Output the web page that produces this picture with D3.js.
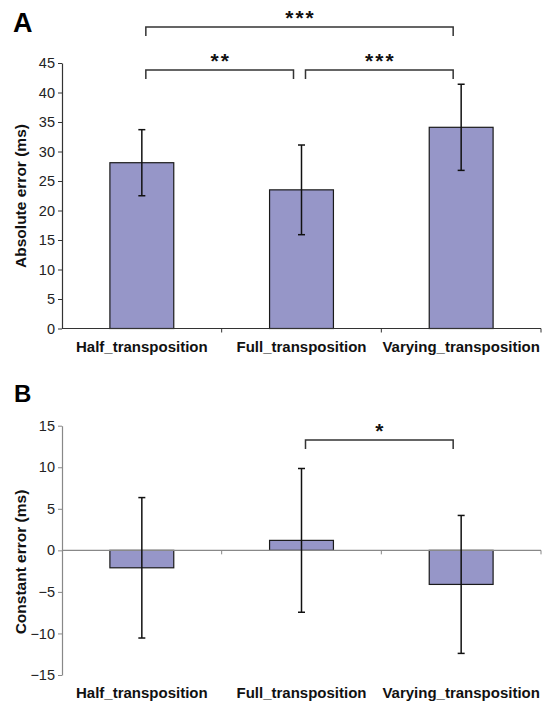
<!DOCTYPE html>
<html>
<head>
<meta charset="utf-8">
<script src="https://cdn.jsdelivr.net/npm/d3@7"></script>
<style>
  html, body { margin: 0; padding: 0; background: #fff; }
  svg text { font-family: "Liberation Sans", Arial, sans-serif; }
</style>
</head>
<body>
<svg id="chart" width="542" height="704"></svg>
<script>
// ---- data ----
const categories = ["Half_transposition", "Full_transposition", "Varying_transposition"];
const absMeans = [28.1, 23.5, 34.1];
const absErr   = [5.6, 7.6, 7.3];
const absTicks = [0, 5, 10, 15, 20, 25, 30, 35, 40, 45];
const conMeans = [-2.1, 1.2, -4.1];
const conErr   = [8.45, 8.65, 8.3];
const conTicks = [-15, -10, -5, 0, 5, 10, 15];
const absSig = [ {a: 0, b: 2, label: "***", level: 0}, {a: 0, b: 1, label: "**", level: 1}, {a: 1, b: 2, label: "***", level: 1} ];
const conSig = [ {a: 1, b: 2, label: "*", level: 0} ];

const svg = d3.select("#chart");
const barFill = "#9696C8";

const x = d3.scaleBand().domain(categories).range([62, 541]).paddingInner(0.6).paddingOuter(0.3);
const cx = c => x(c) + x.bandwidth() / 2;

function panel(opts) {
  const g = svg.append("g");
  const y = opts.y;
  // y axis
  const yAxis = d3.axisLeft(y).tickValues(opts.ticks).tickSize(4).tickSizeOuter(0).tickPadding(3);
  const ga = g.append("g").attr("transform", `translate(${x.range()[0]},0)`).call(yAxis);
  ga.select(".domain").attr("stroke", opts.axisColor).attr("stroke-width", 1.2);
  ga.selectAll(".tick line").attr("stroke", opts.axisColor);
  ga.selectAll(".tick text").attr("font-size", 14.5).attr("fill", "#222")
    .attr("font-family", "Liberation Sans, Arial, sans-serif");

  // bars
  g.selectAll("rect.bar").data(categories).join("rect")
    .attr("x", c => x(c))
    .attr("width", x.bandwidth())
    .attr("y", (c, i) => y(Math.max(0, opts.means[i])))
    .attr("height", (c, i) => Math.abs(y(opts.means[i]) - y(0)))
    .attr("fill", barFill).attr("stroke", "#1a1a1a").attr("stroke-width", 1.2);

  // x axis (baseline at 0)
  const y0 = y(0);
  g.append("line").attr("x1", x.range()[0]).attr("x2", x.range()[1])
    .attr("y1", y0).attr("y2", y0).attr("stroke", opts.axisColor).attr("stroke-width", 1.2);
  for (let k = 1; k <= categories.length; k++) {
    const xx = x.range()[0] + k * x.step();
    g.append("line").attr("x1", xx).attr("x2", xx).attr("y1", y0).attr("y2", y0 + 4)
      .attr("stroke", opts.axisColor);
  }

  // error bars
  categories.forEach((c, i) => {
    const m = opts.means[i], e = opts.errs[i];
    const xc = cx(c);
    g.append("line").attr("x1", xc).attr("x2", xc).attr("y1", y(m + e)).attr("y2", y(m - e))
      .attr("stroke", "#111").attr("stroke-width", 1.5);
    [m + e, m - e].forEach(v => {
      g.append("line").attr("x1", xc - 3.5).attr("x2", xc + 3.5).attr("y1", y(v)).attr("y2", y(v))
        .attr("stroke", "#111").attr("stroke-width", 1.5);
    });
  });

  // category labels
  g.selectAll("text.cat").data(categories).join("text")
    .attr("x", c => cx(c)).attr("y", opts.labelY)
    .attr("text-anchor", "middle").attr("font-size", 15).attr("font-weight", "bold")
    .attr("fill", "#111").text(c => c);

  // y title
  g.append("text").attr("transform", `translate(26,${opts.titleY}) rotate(-90)`)
    .attr("text-anchor", "middle").attr("font-size", 15.5).attr("font-weight", "bold")
    .attr("fill", "#111").text(opts.title);

  // panel letter
  g.append("text").attr("x", opts.letterX).attr("y", opts.letterY)
    .attr("font-size", opts.letterSize).attr("font-weight", "bold").attr("fill", "#000").text(opts.letter);

  // significance brackets
  opts.sig.forEach(s => {
    const x1 = cx(categories[s.a]) + 4;
    const x2 = cx(categories[s.b]) - 8;
    const by = opts.bracketY[s.level];
    g.append("path").attr("d", `M${x1},${by + 9}V${by}H${x2}V${by + 9}`)
      .attr("fill", "none").attr("stroke", "#333").attr("stroke-width", 1.5);
    g.append("text").attr("x", (x1 + x2) / 2 + 1).attr("y", by - 2)
      .attr("text-anchor", "middle").attr("font-size", 21).attr("font-weight", "bold")
      .attr("letter-spacing", 2).attr("fill", "#111").text(s.label);
  });
}

panel({
  y: d3.scaleLinear().domain([0, 45]).range([328.5, 63]),
  ticks: absTicks, means: absMeans, errs: absErr, axisColor: "#333",
  labelY: 352, title: "Absolute error (ms)", titleY: 196,
  letter: "A", letterX: 13, letterY: 32, letterSize: 27,
  sig: absSig, bracketY: [27, 70]
});

panel({
  y: d3.scaleLinear().domain([-15, 15]).range([675, 425.7]),
  ticks: conTicks, means: conMeans, errs: conErr, axisColor: "#888",
  labelY: 698, title: "Constant error (ms)", titleY: 562,
  letter: "B", letterX: 14, letterY: 402, letterSize: 24,
  sig: conSig, bracketY: [440]
});
</script>
</body>
</html>
